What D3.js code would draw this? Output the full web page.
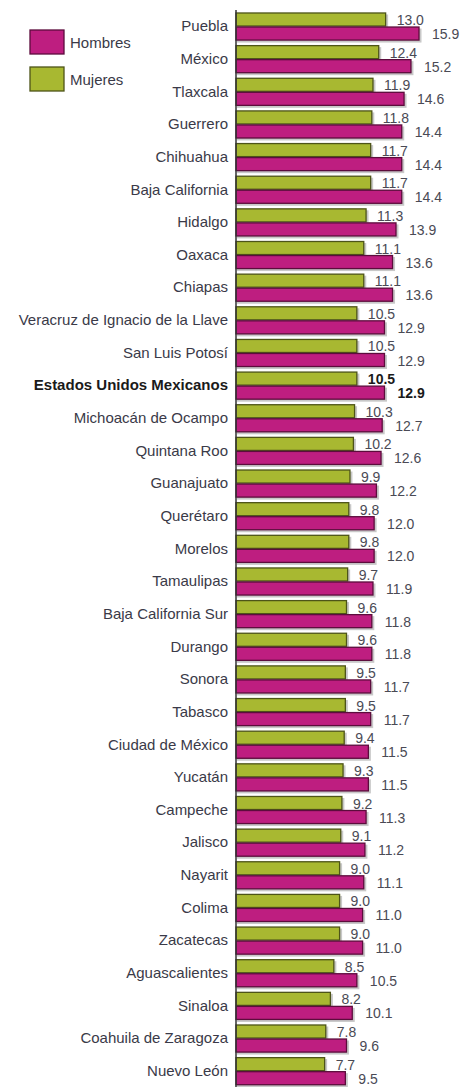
<!DOCTYPE html>
<html>
<head>
<meta charset="utf-8">
<script src="https://cdn.jsdelivr.net/npm/d3@7"></script>
<style>
  body { margin: 0; background: #fff; }
  svg { display: block; font-family: "Liberation Sans", Arial, sans-serif; }
</style>
</head>
<body>
<svg width="463" height="1087"></svg>
<script>
var states = ["Puebla", "México", "Tlaxcala", "Guerrero", "Chihuahua", "Baja California",
  "Hidalgo", "Oaxaca", "Chiapas", "Veracruz de Ignacio de la Llave", "San Luis Potosí",
  "Estados Unidos Mexicanos", "Michoacán de Ocampo", "Quintana Roo", "Guanajuato",
  "Querétaro", "Morelos", "Tamaulipas", "Baja California Sur", "Durango", "Sonora",
  "Tabasco", "Ciudad de México", "Yucatán", "Campeche", "Jalisco", "Nayarit", "Colima",
  "Zacatecas", "Aguascalientes", "Sinaloa", "Coahuila de Zaragoza", "Nuevo León"];

var mujeres = [13.0, 12.4, 11.9, 11.8, 11.7, 11.7, 11.3, 11.1, 11.1, 10.5, 10.5, 10.5, 10.3,
  10.2, 9.9, 9.8, 9.8, 9.7, 9.6, 9.6, 9.5, 9.5, 9.4, 9.3, 9.2, 9.1, 9.0, 9.0, 9.0, 8.5, 8.2, 7.8, 7.7];

var hombres = [15.9, 15.2, 14.6, 14.4, 14.4, 14.4, 13.9, 13.6, 13.6, 12.9, 12.9, 12.9, 12.7,
  12.6, 12.2, 12.0, 12.0, 11.9, 11.8, 11.8, 11.7, 11.7, 11.5, 11.5, 11.3, 11.2, 11.1, 11.0,
  11.0, 10.5, 10.1, 9.6, 9.5];

var series = ["Mujeres", "Hombres"];
var legendOrder = ["Hombres", "Mujeres"];
var totalRow = "Estados Unidos Mexicanos";

var svg = d3.select("svg");
var x0 = 236;

var x = d3.scaleLinear().domain([0, 16]).range([x0, x0 + 16 * 11.51]);

var y = d3.scaleBand()
  .domain(states)
  .range([10.2, 1087.5])
  .paddingInner(0.14)
  .paddingOuter(0.07);

var ySub = d3.scaleBand()
  .domain(series)
  .range([0, y.bandwidth()]);

var fill = d3.scaleOrdinal().domain(series).range(["#a8b831", "#be1e80"]);
var stroke = d3.scaleOrdinal().domain(series).range(["#4d5418", "#5c0c3c"]);

var rows = states.map(function(s, i) {
  return { name: s, values: [
    { key: "Mujeres", v: mujeres[i] },
    { key: "Hombres", v: hombres[i] }
  ]};
});

var g = svg.selectAll("g.row")
  .data(rows)
  .enter().append("g")
  .attr("class", "row")
  .attr("transform", function(d) { return "translate(0," + y(d.name) + ")"; });

// light shadow behind each bar
g.selectAll("rect.shadow")
  .data(function(d) { return d.values; })
  .enter().append("rect")
  .attr("x", x0 + 1)
  .attr("y", function(d) { return ySub(d.key) + 2; })
  .attr("width", function(d) { return x(d.v) - x0 + 1.5; })
  .attr("height", ySub.bandwidth())
  .attr("fill", "#c8c8c8");

g.selectAll("rect.bar")
  .data(function(d) { return d.values; })
  .enter().append("rect")
  .attr("class", "bar")
  .attr("x", x0)
  .attr("y", function(d) { return ySub(d.key) + 0.5; })
  .attr("width", function(d) { return x(d.v) - x0; })
  .attr("height", ySub.bandwidth() - 1)
  .attr("fill", function(d) { return fill(d.key); })
  .attr("stroke", function(d) { return stroke(d.key); })
  .attr("stroke-width", 1.3);

// value labels
g.each(function(row) {
  var bold = row.name == totalRow;
  d3.select(this).selectAll("text.val")
    .data(row.values)
    .enter().append("text")
    .attr("class", "val")
    .attr("x", function(d) { return x(d.v) + (d.key == "Mujeres" ? 11 : 13); })
    .attr("y", function(d) { return ySub(d.key) + ySub.bandwidth() - 1.5; })
    .attr("font-size", 14)
    .attr("font-weight", bold ? "bold" : "normal")
    .attr("fill", bold ? "#1a1a1a" : "#4a4a55")
    .text(function(d) { return d3.format(".1f")(d.v); });
});

// category labels
svg.append("g")
  .attr("transform", "translate(" + (x0 - 8) + ",0)")
  .call(d3.axisLeft(y).tickSize(0).tickPadding(0))
  .call(function(a) {
    a.select(".domain").remove();
    a.selectAll("text")
      .attr("font-size", 15)
      .attr("font-family", "'Liberation Sans', Arial, sans-serif")
      .attr("font-weight", function(d) { return d == totalRow ? "bold" : "normal"; })
      .attr("fill", function(d) { return d == totalRow ? "#1a1a1a" : "#3a3a48"; });
  });

// vertical axis line
svg.append("line")
  .attr("x1", x0).attr("x2", x0)
  .attr("y1", 10).attr("y2", 1087)
  .attr("stroke", "#333")
  .attr("stroke-width", 1.5);

// legend
var leg = svg.append("g").selectAll("g")
  .data(legendOrder)
  .enter().append("g")
  .attr("transform", function(d, i) { return "translate(30," + (30 + i * 37) + ")"; });

leg.append("rect")
  .attr("width", 34).attr("height", 24)
  .attr("fill", function(d) { return fill(d); })
  .attr("stroke", function(d) { return stroke(d); })
  .attr("stroke-width", 1.3);

leg.append("text")
  .attr("x", 40).attr("y", 13)
  .attr("dy", "0.35em")
  .attr("font-size", 15)
  .attr("fill", "#3a3a48")
  .text(function(d) { return d; });
</script>
</body>
</html>
